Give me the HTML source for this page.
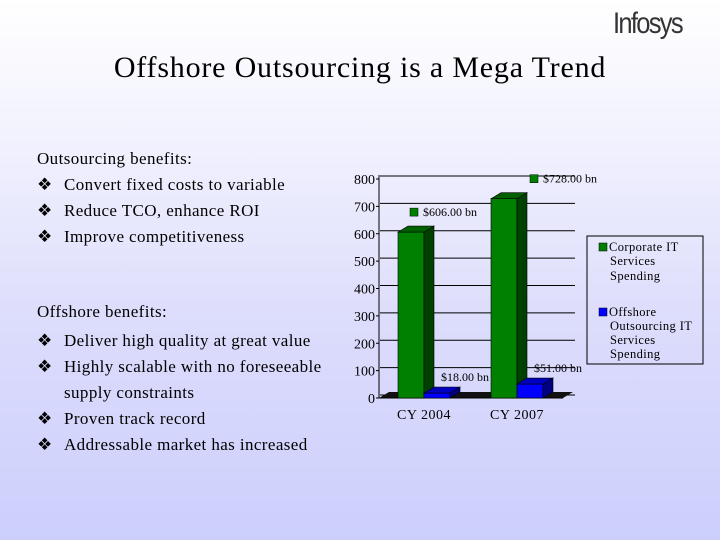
<!DOCTYPE html>
<html><head><meta charset="utf-8"><style>
body{margin:0}
#slide{position:relative;width:720px;height:540px;overflow:hidden;background:linear-gradient(#ffffff 0%,#f2f2fe 25%,#dcdcfc 60%,#cccffc 100%);font-family:"Liberation Serif",serif;color:#000}
.t{position:absolute;white-space:nowrap;font-size:17px;line-height:18px;letter-spacing:0.4px}
.bl{position:absolute;left:0}
</style></head><body>
<div id="slide">
<div class="t" style="left:613px;top:6px;font-family:'Liberation Sans',sans-serif;font-size:30px;line-height:36px;color:#333;letter-spacing:-2px;transform:scaleX(0.85);transform-origin:left">Infosys</div>
<div class="t" style="left:0;width:720px;text-align:center;top:52px;font-size:30px;line-height:32px;letter-spacing:0.8px">Offshore Outsourcing is a Mega Trend</div>
<div>
<div class="t" style="left:37px;top:150px">Outsourcing benefits:</div>
<div class="t" style="left:37px;top:176px;width:300px"><span class="bl">❖</span><span style="margin-left:27px">Convert fixed costs to variable</span></div>
<div class="t" style="left:37px;top:202px"><span class="bl">❖</span><span style="margin-left:27px">Reduce TCO, enhance ROI</span></div>
<div class="t" style="left:37px;top:228px"><span class="bl">❖</span><span style="margin-left:27px">Improve competitiveness</span></div>
</div>
<div>
<div class="t" style="left:37px;top:303px">Offshore benefits:</div>
<div class="t" style="left:37px;top:332px"><span class="bl">❖</span><span style="margin-left:27px">Deliver high quality at great value</span></div>
<div class="t" style="left:37px;top:358px"><span class="bl">❖</span><span style="margin-left:27px">Highly scalable with no foreseeable</span></div>
<div class="t" style="left:64px;top:384px">supply constraints</div>
<div class="t" style="left:37px;top:410px"><span class="bl">❖</span><span style="margin-left:27px">Proven track record</span></div>
<div class="t" style="left:37px;top:436px"><span class="bl">❖</span><span style="margin-left:27px">Addressable market has increased</span></div>
</div>
<svg id="chart" width="720" height="540" style="position:absolute;left:0;top:0" font-family="Liberation Serif, serif"></svg>
</div>
<script>
const categories=["CY 2004","CY 2007"];
const corporate=[606,728];
const offshore=[18,51];
const corporateLabels=["$606.00 bn","$728.00 bn"];
const offshoreLabels=["$18.00 bn","$51.00 bn"];
const yTicks=[0,100,200,300,400,500,600,700,800];
const NS="http://www.w3.org/2000/svg";
const svg=document.getElementById('chart');
const x0=379,y0=398,pxPer=(398-179)/800,dx=10,dy=6,gridEnd=575;
function y(v){return y0-v*pxPer;}
function catX(i){return 398+i*93;}
function mk(tag,attrs,parent){const e=document.createElementNS(NS,tag);for(const k in attrs)e.setAttribute(k,attrs[k]);(parent||svg).appendChild(e);return e;}
yTicks.forEach(v=>{
  const g=mk('line',{x1:x0+1,x2:gridEnd,y1:y(v)-dy/2,y2:y(v)-dy/2,stroke:'#000','stroke-width':1});
  
  
  const t=mk('text',{x:x0-4,y:y(v)+5,'text-anchor':'end','font-size':14});
  t.textContent=v;
  
  
  mk('line',{x1:x0-3,x2:x0,y1:y(v),y2:y(v),stroke:'#000'});
});
mk('line',{x1:x0,x2:x0,y1:y(800)-4,y2:y0,stroke:'#000'});
const floor=mk('polygon',{points:`${x0},${y0} ${x0+dx},${y0-dy} ${gridEnd-2},${y0-dy} ${gridEnd-12},${y0}`,fill:'#111'});


mk('line',{x1:x0,x2:gridEnd-12,y1:y0,y2:y0,stroke:'#000'});
function bar(x,w,v,front,side,top,name){
  const g=mk('g',{});
  
  
  const yt=y(v);
  mk('rect',{x:x,y:yt,width:w,height:y0-yt,fill:front,stroke:'#000','stroke-width':0.6},g);
  mk('polygon',{points:`${x+w},${yt} ${x+w+dx},${yt-dy} ${x+w+dx},${y0-dy} ${x+w},${y0}`,fill:side,stroke:'#000','stroke-width':0.6},g);
  mk('polygon',{points:`${x},${yt} ${x+dx},${yt-dy} ${x+w+dx},${yt-dy} ${x+w},${yt}`,fill:top,stroke:'#000','stroke-width':0.6},g);
}
categories.forEach((c,i)=>{
  const bx=catX(i);
  bar(bx,26,corporate[i],'#008000','#004000','#006000','bar-corporate-'+i);
  bar(bx+26,26,offshore[i],'#0000ff','#000080','#0000c0','bar-offshore-'+i);
  const t=mk('text',{x:bx+26,y:y0+21,'text-anchor':'middle','font-size':14,'letter-spacing':0.5});
  t.textContent=c;
  
  
  const ly=y(corporate[i])-16;
  const lg=mk('g',{});
  
  
  const lx=bx+12+i*27;
  mk('rect',{x:lx,y:ly-8,width:8,height:8,fill:'#008000',stroke:'#000','stroke-width':0.5},lg);
  const lt=mk('text',{x:lx+13,y:ly,'font-size':12},lg);lt.textContent=corporateLabels[i];
  const ot=mk('text',{x:bx+67,y:y(offshore[i])-12,'text-anchor':'middle','font-size':12});
  ot.textContent=offshoreLabels[i];
  
  
});
const lg=mk('g',{});


mk('rect',{x:587,y:236,width:116,height:128,fill:'none',stroke:'#000','stroke-width':1},lg);
mk('rect',{x:599,y:243,width:8,height:8,fill:'#008000',stroke:'#000','stroke-width':0.5},lg);
mk('rect',{x:599,y:308,width:8,height:8,fill:'#0000ff',stroke:'#000','stroke-width':0.5},lg);
[["Corporate IT",251,609],["Services",265,610],["Spending",280,610],["Offshore",316,609],["Outsourcing IT",330,610],["Services",344,610],["Spending",358,610]].forEach(a=>{
  const t=mk('text',{x:a[2],y:a[1],'font-size':12.5,'letter-spacing':0.4},lg);t.textContent=a[0];
});
</script>
</body></html>
